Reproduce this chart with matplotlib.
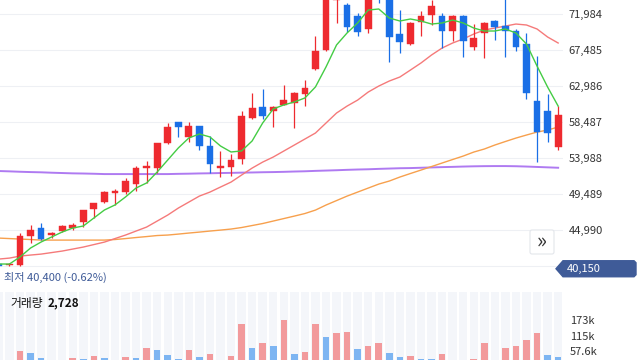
import numpy as np
import matplotlib
matplotlib.use("Agg")
import matplotlib.pyplot as plt
from matplotlib.patches import Polygon, FancyBboxPatch

plt.rcParams['font.family'] = ['Noto Sans CJK KR', 'DejaVu Sans']

# dane
opens = [40750, 40650, 40600, 44250, 45250, 44350, 44850, 45250, 46000, 47600,
         48500, 49600, 49750, 50750, 52750, 52750, 55850, 58500, 56600, 58000,
         55500, 52750, 52850, 53850, 59000, 60350, 59850, 60600, 60850, 62000,
         65100, 67500, 73700, 73100, 71750, 70100, 75000, 74000, 69500, 68250,
         71000, 71850, 71750, 69850, 71750, 67850, 69600, 71100, 70500, 69850,
         68250, 61100, 59850, 55350]
highs = [40850, 40850, 44600, 45600, 45850, 44750, 45600, 45900, 47500, 48400,
         49850, 50100, 51500, 53000, 53600, 55900, 58400, 58550, 58500, 58050,
         56750, 54850, 54500, 59850, 62100, 62600, 60450, 63100, 62200, 63750,
         69250, 75000, 74500, 73400, 72100, 74200, 75300, 74300, 72500, 71000,
         72350, 73750, 72100, 71850, 71850, 70750, 70950, 71200, 74000, 70100,
         69600, 66750, 62000, 60500]
lows = [40400, 40450, 40500, 43350, 43750, 44000, 44750, 45000, 45350, 46500,
        48350, 48100, 49500, 49850, 50850, 52100, 55800, 56600, 56000, 55000,
        52100, 51600, 51750, 53250, 58900, 58850, 57850, 60550, 57750, 60500,
        65000, 67400, 70850, 69750, 69250, 69600, 73350, 66000, 67100, 68100,
        69250, 70600, 67750, 68600, 66600, 67500, 66500, 68750, 66600, 67350,
        61350, 53500, 56000, 55000]
closes = [40500, 40750, 44250, 45000, 43850, 44600, 45500, 45600, 47500, 48350,
          49750, 49850, 51100, 52750, 53000, 55850, 57850, 57850, 58000, 55500,
          53250, 53000, 53750, 59250, 60250, 59250, 60350, 61250, 62100, 62750,
          67350, 74500, 74000, 70350, 69750, 73900, 74200, 69100, 68500, 70850,
          71750, 73000, 69850, 71750, 68600, 69000, 70850, 70350, 69850, 67850,
          62100, 57250, 57100, 59350]

ma5 = [40740, 40740, 41620, 42740, 43490, 44120, 44740, 45240, 45490, 46490,
       47490, 48120, 49120, 50240, 50870, 52240, 53740, 55240, 56490, 56990,
       56620, 55490, 54740, 54870, 56120, 58370, 60120, 60620, 60990, 61490,
       62870, 65370, 68120, 69620, 70870, 72480, 72610, 71480, 71110, 71360,
       71110, 70730, 70860, 71230, 70860, 70230, 69860, 69860, 70110, 69610,
       68230, 65480, 62860, 60480]
ma20 = [41360, 41480, 41730, 41860, 41980, 42170, 42360, 42610, 42860, 43170,
        43480, 43920, 44360, 44860, 45360, 46110, 46860, 47730, 48480, 49230,
        49730, 50360, 50980, 51860, 52730, 53480, 54110, 54860, 55610, 56360,
        57110, 58360, 59610, 60480, 61230, 62230, 62980, 63610, 64110, 64980,
        65860, 66860, 67730, 68360, 68860, 69480, 69980, 70230, 70480, 70730,
        70610, 70110, 69110, 68360]
ma60 = [43980, 43920, 43860, 43800, 43730, 43730, 43730, 43730, 43730, 43730,
        43730, 43800, 43920, 44050, 44170, 44300, 44360, 44480, 44610, 44730,
        44860, 44980, 45110, 45300, 45550, 45800, 46110, 46420, 46730, 47050,
        47480, 48110, 48670, 49230, 49730, 50230, 50730, 51110, 51610, 52050,
        52480, 52920, 53360, 53800, 54230, 54730, 55110, 55610, 56050, 56480,
        56860, 57230, 57480, 57860]
ma120 = [52360, 52320, 52270, 52230, 52200, 52150, 52110, 52070, 52050, 52020,
         51980, 51980, 51980, 51980, 51980, 51980, 51980, 52010, 52030, 52060,
         52080, 52110, 52130, 52160, 52180, 52210, 52230, 52260, 52300, 52330,
         52380, 52420, 52460, 52510, 52550, 52580, 52630, 52670, 52710, 52730,
         52770, 52810, 52850, 52880, 52920, 52950, 52970, 52980, 52980, 52960,
         52920, 52870, 52820, 52770]

volume = [10, 12, 58.7, 49, 31.6, 15, 12, 31.6, 27.9, 37.9,
          31.6, 15, 35.3, 31.6, 68.7, 61.3, 41.6, 26.8, 62.4, 34.2,
          46.4, 18, 39, 158, 68.7, 88.4, 76.2, 171.6, 45.3, 52.8,
          158, 110.7, 125.6, 128.2, 66.2, 76.2, 87.3, 50.2, 35.3, 39,
          27.9, 27.5, 46.4, 18, 16, 27.9, 87.3, 20, 68.7, 76.2,
          97.4, 125.6, 41.6, 35.3]  # w tysiacach

price_ticks = [44990, 49489, 53988, 58487, 62986, 67485, 71984]
grid_levels = [40491] + price_ticks
vol_ticks = [57.6, 115.2, 172.8]
vol_labels = ['57.6k', '115k', '173k']
last_price = 40150
low_text = '최저 40,400 (-0.62%)'

RED = '#ee2a2f'
BLUE = '#1a6fe6'

fig = plt.figure(figsize=(6.4, 3.6), dpi=100)
ax = fig.add_axes([0, 72 / 360, 563 / 640, 288 / 360])
axv = fig.add_axes([0, 0, 563 / 640, 68 / 360])

x = np.arange(len(opens))
o = np.array(opens)
c = np.array(closes)
up = c >= o
cols = np.where(up, RED, BLUE)

for g in grid_levels:
    ax.axhline(g, color='#eef0f4', lw=0.8, zorder=0)

ax.plot(x, ma120, color='#a66cf0', lw=1.4, alpha=0.9, zorder=1)
ax.plot(x, ma60, color='#f7a04d', lw=1.0, zorder=1)
ax.plot(x, ma20, color='#f57a7a', lw=1.0, zorder=1)

ax.vlines(x, lows, highs, colors=cols, lw=0.9, zorder=2)
ax.bar(x, np.abs(c - o), bottom=np.minimum(o, c), width=0.64, color=cols,
       edgecolor=cols, lw=0.3, zorder=3)

ax.plot(x, ma5, color='#44cc44', lw=1.0, zorder=4)

ax.set_xlim(0.104, 53.46)
ax.set_ylim(37743, 73734)
ax.set_yticks(price_ticks)
ax.set_yticklabels([f'{t:,}' for t in price_ticks])
ax.yaxis.tick_right()
ax.tick_params(axis='y', length=0, pad=4, labelsize=8, labelcolor='#333333')
ax.set_xticks([])
for s in ax.spines.values():
    s.set_visible(False)
ax.set_facecolor('none')

# najnizsza cena
fig.text(4 / 640, 1 - 277 / 360, low_text, fontsize=8, color='#3f5b98',
         va='center', ha='left')

# znacznik ostatniej ceny
yp = ax.transData.transform((0, last_price))[1]
box = Polygon([[556, yp], [563, yp + 8], [634, yp + 8], [636, yp + 6],
               [636, yp - 6], [634, yp - 8], [563, yp - 8]],
              closed=True, transform=None, facecolor='#3f5b98',
              edgecolor='#3f5b98', clip_on=False, zorder=5)
fig.patches.append(box)
fig.text(567 / 640, yp / 360, f'{last_price:,}', color='white', fontsize=8,
         va='center', ha='left', zorder=6)

# przycisk >>
btn = FancyBboxPatch((530, 106), 24, 24, boxstyle='round,pad=0,rounding_size=2',
                     transform=None, facecolor='white', edgecolor='#e3e6eb',
                     lw=0.8, zorder=5)
fig.patches.append(btn)
fig.text(542 / 640, 118 / 360, '»', fontsize=15, color='#333333',
         ha='center', va='center', zorder=6)

# wolumen
vol = np.array(volume)
vcols = [RED] + [RED if vol[i] > vol[i - 1] else BLUE for i in range(1, len(vol))]
vcols = ['#f29a9c' if cc == RED else '#7db5f2' for cc in vcols]
vlo, vhi = 24.2, 276.8
axv.bar(x, vhi, width=0.8, color='#f4f6fa', zorder=0)
axv.bar(x, vol, width=0.62, color=vcols, zorder=2)
axv.set_xlim(0.104, 53.46)
axv.set_ylim(vlo, vhi)
axv.set_yticks(vol_ticks)
axv.set_yticklabels(vol_labels)
axv.yaxis.tick_right()
axv.tick_params(axis='y', length=0, pad=5, labelsize=8, labelcolor='#333333')
axv.set_xticks([])
for s in axv.spines.values():
    s.set_visible(False)

axv.text(10 / 563, 1 - 11 / 68, '거래량', transform=axv.transAxes, fontsize=8.5,
         color='#111111', va='center', ha='left')
axv.text(48 / 563, 1 - 11 / 68, '2,728', transform=axv.transAxes, fontsize=8.5,
         color='#111111', va='center', ha='left', fontweight='bold')

fig.savefig('out.png', dpi=100)
